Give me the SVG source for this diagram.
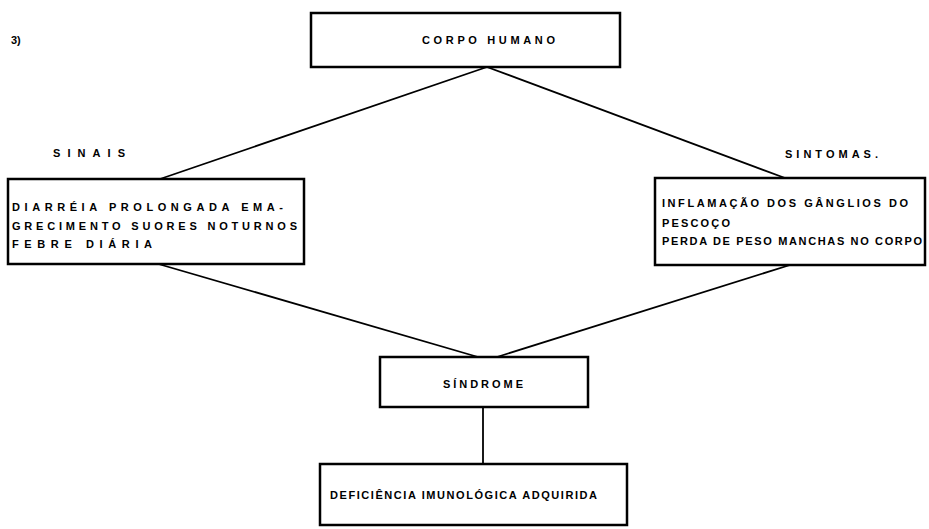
<svg xmlns="http://www.w3.org/2000/svg" width="929" height="529" viewBox="0 0 929 529">
<style>
.box{fill:#fff;stroke:#000;stroke-width:2.5}
.t{font-family:"Liberation Sans",Arial,sans-serif;font-weight:bold;font-size:11px;fill:#000}
.c{stroke:#000;stroke-width:1.8;fill:none}
</style>
<rect width="929" height="529" fill="#fff"/>
<text class="t" x="11" y="44" font-size="13">3)</text>
<g id="connectors">
<line class="c" x1="487" y1="67" x2="160" y2="179"/>
<line class="c" x1="487" y1="67" x2="785" y2="178"/>
<line class="c" x1="155" y1="263" x2="478" y2="357"/>
<line class="c" x1="790" y1="265" x2="497" y2="357"/>
<line class="c" x1="483" y1="407" x2="483" y2="465"/>
</g>
<g id="corpo">
<rect class="box" x="311" y="13" width="309" height="54"/>
<text class="t" x="422" y="44" textLength="133" lengthAdjust="spacing">CORPO HUMANO</text>
</g>
<g id="sinais-label"><text class="t" x="53" y="157" textLength="72" lengthAdjust="spacing">SINAIS</text></g>
<g id="sintomas-label"><text class="t" x="785" y="158" textLength="93" lengthAdjust="spacing">SINTOMAS.</text></g>
<g id="sinais">
<rect class="box" x="8" y="179" width="296" height="85"/>
<text class="t" x="12" y="211" textLength="271" lengthAdjust="spacing">DIARRÉIA PROLONGADA EMA-</text>
<text class="t" x="12" y="230" textLength="285" lengthAdjust="spacing">GRECIMENTO SUORES NOTURNOS</text>
<text class="t" x="12" y="248" textLength="140" lengthAdjust="spacing">FEBRE DIÁRIA</text>
</g>
<g id="sintomas">
<rect class="box" x="655" y="178" width="270" height="87"/>
<text class="t" x="662" y="207" textLength="246" lengthAdjust="spacing">INFLAMAÇÃO DOS GÂNGLIOS DO</text>
<text class="t" x="662" y="227" textLength="68" lengthAdjust="spacing">PESCOÇO</text>
<text class="t" x="662" y="245" textLength="260" lengthAdjust="spacing">PERDA DE PESO MANCHAS NO CORPO</text>
</g>
<g id="sindrome">
<rect class="box" x="380" y="357" width="208" height="50"/>
<text class="t" x="443" y="388" textLength="80" lengthAdjust="spacing">SÍNDROME</text>
</g>
<g id="deficiencia">
<rect class="box" x="320" y="464" width="307" height="61"/>
<text class="t" x="330" y="499" textLength="267" lengthAdjust="spacing">DEFICIÊNCIA IMUNOLÓGICA ADQUIRIDA</text>
</g>
</svg>
